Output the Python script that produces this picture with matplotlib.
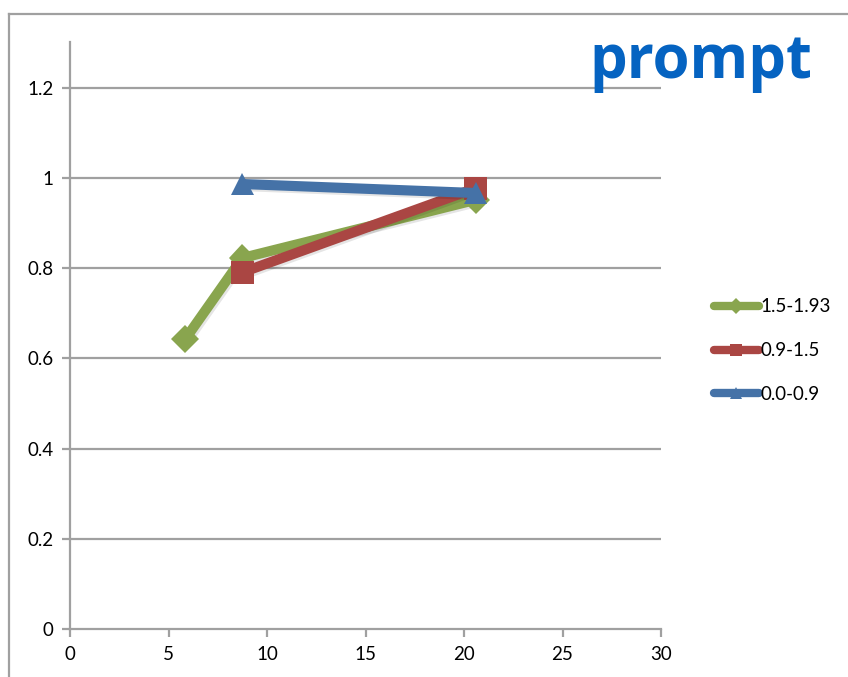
import matplotlib
matplotlib.use("Agg")
import matplotlib.pyplot as plt
import matplotlib.patheffects as pe
from matplotlib.lines import Line2D

# Series data
labels = ["1.5-1.93", "0.9-1.5", "0.0-0.9"]
x_green = [5.85, 8.75, 20.6]
y_green = [0.643, 0.823, 0.952]
x_red = [8.75, 20.6]
y_red = [0.791, 0.978]
x_blue = [8.75, 20.6]
y_blue = [0.987, 0.967]

colors = ["#89A54E", "#AA4643", "#4572A7"]
markers = ["D", "s", "^"]
msizes = [14, 16.5, 16.5]

xticks = [0, 5, 10, 15, 20, 25, 30]
yticks = [0, 0.2, 0.4, 0.6, 0.8, 1.0, 1.2]
ytick_labels = ["0", "0.2", "0.4", "0.6", "0.8", "1", "1.2"]

plt.rcParams["font.family"] = ["Lato", "DejaVu Sans"]

W, H = 848, 677
fig = plt.figure(figsize=(W / 100, H / 100), dpi=100)
ax = fig.add_axes([70 / W, 1 - 629 / H, (661 - 70) / W, (629 - 42) / H])

grid_c = "#A0A0A0"
for yv in yticks[1:]:
    ax.axhline(yv, color=grid_c, lw=1.6, zorder=1)

shadow = [pe.SimpleLineShadow(offset=(1.2, -1.5), alpha=0.1, shadow_color="black"), pe.Normal()]
series = [(x_green, y_green), (x_red, y_red), (x_blue, y_blue)]
for (xs, ys), lab, c, m, ms in zip(series, labels, colors, markers, msizes):
    ax.plot(xs, ys, color=c, lw=7.3, marker=m, markersize=ms, markeredgewidth=0,
            label=lab, zorder=3, solid_capstyle="butt", path_effects=shadow)

ax.set_xlim(0, 30)
ax.set_ylim(0, 1.302)
ax.set_xticks(xticks)
ax.set_yticks(yticks)
ax.set_yticklabels(ytick_labels)
ax.tick_params(axis="both", direction="out", length=6, width=1.6, color=grid_c,
               labelsize=13.5, pad=6, labelcolor="black")

for side in ["top", "right"]:
    ax.spines[side].set_visible(False)
for side in ["left", "bottom"]:
    ax.spines[side].set_color(grid_c)
    ax.spines[side].set_linewidth(1.6)

handles = [Line2D([0], [0], color=c, lw=6, marker=m, markersize=8, markeredgewidth=0,
                  solid_capstyle="round") for c, m in zip(colors, markers)]
fig.legend(handles, labels, loc="upper left", bbox_to_anchor=(706 / W, 1 - 291 / H),
           frameon=False, fontsize=13.5, handlelength=2.45, handletextpad=0.05,
           labelspacing=1.42, borderaxespad=0)

fig.text(701 / W, 1 - 78 / H, "prompt", color="#0563C1", fontsize=43,
         fontweight="bold", family=["Open Sans", "DejaVu Sans"],
         ha="center", va="baseline")

# outer frame
fig.add_artist(Line2D([9 / W, 1.0], [1 - 13.5 / H, 1 - 13.5 / H], color=grid_c, lw=1.6,
                      transform=fig.transFigure))
fig.add_artist(Line2D([9 / W, 9 / W], [1 - 13.5 / H, 0], color=grid_c, lw=1.6,
                      transform=fig.transFigure))

fig.savefig("out.png", dpi=100)
